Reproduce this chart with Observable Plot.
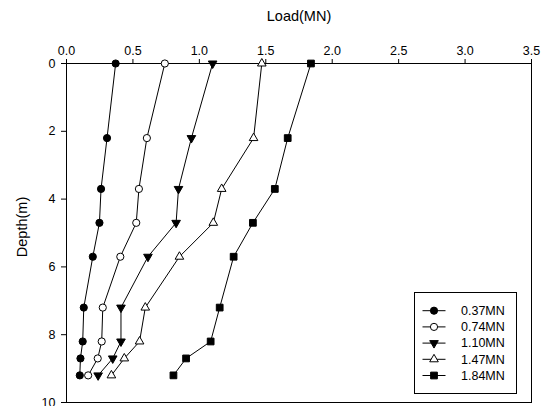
<!DOCTYPE html>
<html><head><meta charset="utf-8">
<script src="https://cdn.jsdelivr.net/npm/d3@7"></script>
<script src="https://cdn.jsdelivr.net/npm/@observablehq/plot@0.6"></script>
<style>
body{margin:0;background:#fff;}
svg{display:block;font-family:"Liberation Sans",Arial,sans-serif;}
</style>
</head><body><div id="chart"></div>
<script>
// depth (m) of each gauge level
const depths = [0, 2.2, 3.7, 4.7, 5.7, 7.2, 8.2, 8.7, 9.2];
// series names (head load)
const seriesNames = ["0.37MN", "0.74MN", "1.10MN", "1.47MN", "1.84MN"];
// axial load (MN) at each depth, one array per series
const load037 = [0.37, 0.305, 0.26, 0.248, 0.198, 0.13, 0.122, 0.105, 0.10];
const load074 = [0.74, 0.605, 0.545, 0.525, 0.405, 0.273, 0.265, 0.235, 0.163];
const load110 = [1.10, 0.94, 0.843, 0.825, 0.613, 0.41, 0.41, 0.348, 0.238];
const load147 = [1.47, 1.408, 1.168, 1.105, 0.85, 0.593, 0.55, 0.435, 0.338];
const load184 = [1.84, 1.665, 1.568, 1.403, 1.258, 1.153, 1.085, 0.90, 0.805];
// tick labels
const xTicks = [0, 0.5, 1.0, 1.5, 2.0, 2.5, 3.0, 3.5];
const yTicks = [0, 2, 4, 6, 8, 10];

const allLoads = [load037, load074, load110, load147, load184];
const rows = [];
seriesNames.forEach((s, i) => depths.forEach((d, j) => rows.push({series: s, depth: d, load: allLoads[i][j]})));

const styles = {
  "0.37MN": {symbol: "circle", fill: "black", r: 3.6, rotate: 0},
  "0.74MN": {symbol: "circle", fill: "white", r: 3.6, rotate: 0},
  "1.10MN": {symbol: "triangle", fill: "black", r: 3.2, rotate: 180},
  "1.47MN": {symbol: "triangle", fill: "white", r: 3.2, rotate: 0},
  "1.84MN": {symbol: "square", fill: "black", r: 3.8, rotate: 0}
};

const dotMarks = seriesNames.map(s => Plot.dot(rows.filter(r => r.series === s), {
  x: "load", y: "depth", symbol: () => styles[s].symbol, r: styles[s].r,
  fill: styles[s].fill, stroke: "black", strokeWidth: 1, rotate: styles[s].rotate
}));

const chart = Plot.plot({
  width: 550, height: 406,
  marginTop: 63, marginLeft: 66, marginRight: 19, marginBottom: 4,
  style: {fontFamily: "Liberation Sans, Arial, sans-serif", background: "white"},
  symbol: {type: "identity"},
  x: {domain: [0, 3.5]},
  y: {domain: [0, 10], reverse: true},
  marks: [
    Plot.frame({stroke: "black", strokeWidth: 1}),
    Plot.axisX({anchor: "top", ticks: xTicks, tickFormat: d => d.toFixed(1), tickSize: 5, tickPadding: 4, fontSize: 12.5, label: null, stroke: "black"}),
    Plot.axisY({anchor: "left", ticks: yTicks, tickFormat: d => String(d), tickSize: 5, tickPadding: 6, fontSize: 12.5, label: null, stroke: "black"}),
    Plot.text(["Load(MN)"], {frameAnchor: "top", dy: -47, textAnchor: "middle", lineAnchor: "middle", fontSize: 14.5, fill: "black"}),
    Plot.text(["Depth(m)"], {frameAnchor: "left", dx: -44, dy: -6, textAnchor: "middle", lineAnchor: "middle", rotate: -90, fontSize: 14.5, fill: "black"}),
    Plot.line(rows, {x: "load", y: "depth", z: "series", stroke: "black", strokeWidth: 1}),
    ...dotMarks
  ]
});
document.getElementById("chart").appendChild(chart);

// legend box
const svg = d3.select(chart);
const lg = svg.append("g").attr("text-anchor", "start");
lg.append("rect").attr("x", 414.5).attr("y", 292.5).attr("width", 102).attr("height", 101)
  .attr("fill", "white").attr("stroke", "black").attr("stroke-width", 1);
seriesNames.forEach((s, i) => {
  const y = 310.7 + 16.2 * i;
  lg.append("line").attr("x1", 422.5).attr("x2", 445.5).attr("y1", y).attr("y2", y).attr("stroke", "black");
  const st = styles[s];
  const sym = st.symbol === "circle" ? d3.symbolCircle : st.symbol === "square" ? d3.symbolSquare : d3.symbolTriangle;
  lg.append("path").attr("d", d3.symbol(sym, Math.PI * st.r * st.r)())
    .attr("transform", `translate(434,${y}) rotate(${st.rotate})`)
    .attr("fill", st.fill).attr("stroke", "black");
  lg.append("text").attr("x", 461).attr("y", y).attr("dy", "0.35em").attr("text-anchor", "start")
    .attr("font-size", 12.5).attr("fill", "black").text(s);
});
</script>
</body></html>
